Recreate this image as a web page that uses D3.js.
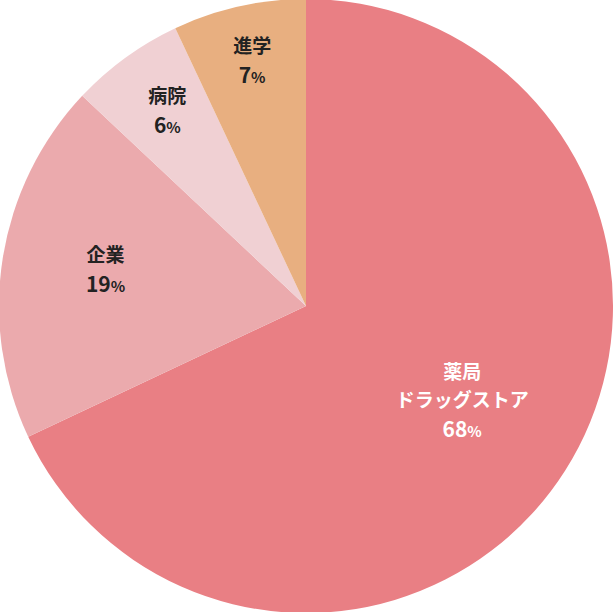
<!DOCTYPE html>
<html><head><meta charset="utf-8">
<script src="https://cdn.jsdelivr.net/npm/d3@7"></script>
<style>body{margin:0;background:#fff}text{font-family:"Noto Sans CJK JP",sans-serif;font-weight:700}</style>
</head><body>
<svg id="c" width="613" height="612"></svg>
<script>
var names = [["薬局", "ドラッグストア"], ["企業"], ["病院"], ["進学"]];
var values = [68, 19, 6, 7];
var colors = ["#E97F84", "#EBAAAD", "#F0D0D3", "#E8AF80"];
var textColors = ["#fff", "#222", "#222", "#222"];

var svg = d3.select("#c");
var g = svg.append("g").attr("transform", "translate(306,306)");
var pie = d3.pie().sort(null)(values);
var arc = d3.arc().innerRadius(0).outerRadius(307);

g.selectAll("path").data(pie).enter().append("path")
    .attr("d", arc).attr("fill", function(d, i) { return colors[i]; });

// label distance from centre, per slice
var lr = [185, 203, 236, 247];
pie.forEach(function(d, i) {
    var a = (d.startAngle + d.endAngle) / 2;
    var x = lr[i] * Math.sin(a), y = -lr[i] * Math.cos(a);
    var lines = names[i];
    var t = g.append("text").attr("text-anchor", "middle").attr("fill", textColors[i]);
    var y0 = y - (lines.length) * 14 + 2;
    lines.forEach(function(s, k) {
        t.append("tspan").attr("x", x).attr("y", y0 + k * 28).attr("font-size", 19).text(s);
    });
    var p = t.append("tspan").attr("x", x).attr("y", y0 + lines.length * 28 + 2).attr("font-size", 21).text(values[i]);
    p = t.append("tspan").attr("font-size", 15).text("%");
});
</script>
</body></html>
